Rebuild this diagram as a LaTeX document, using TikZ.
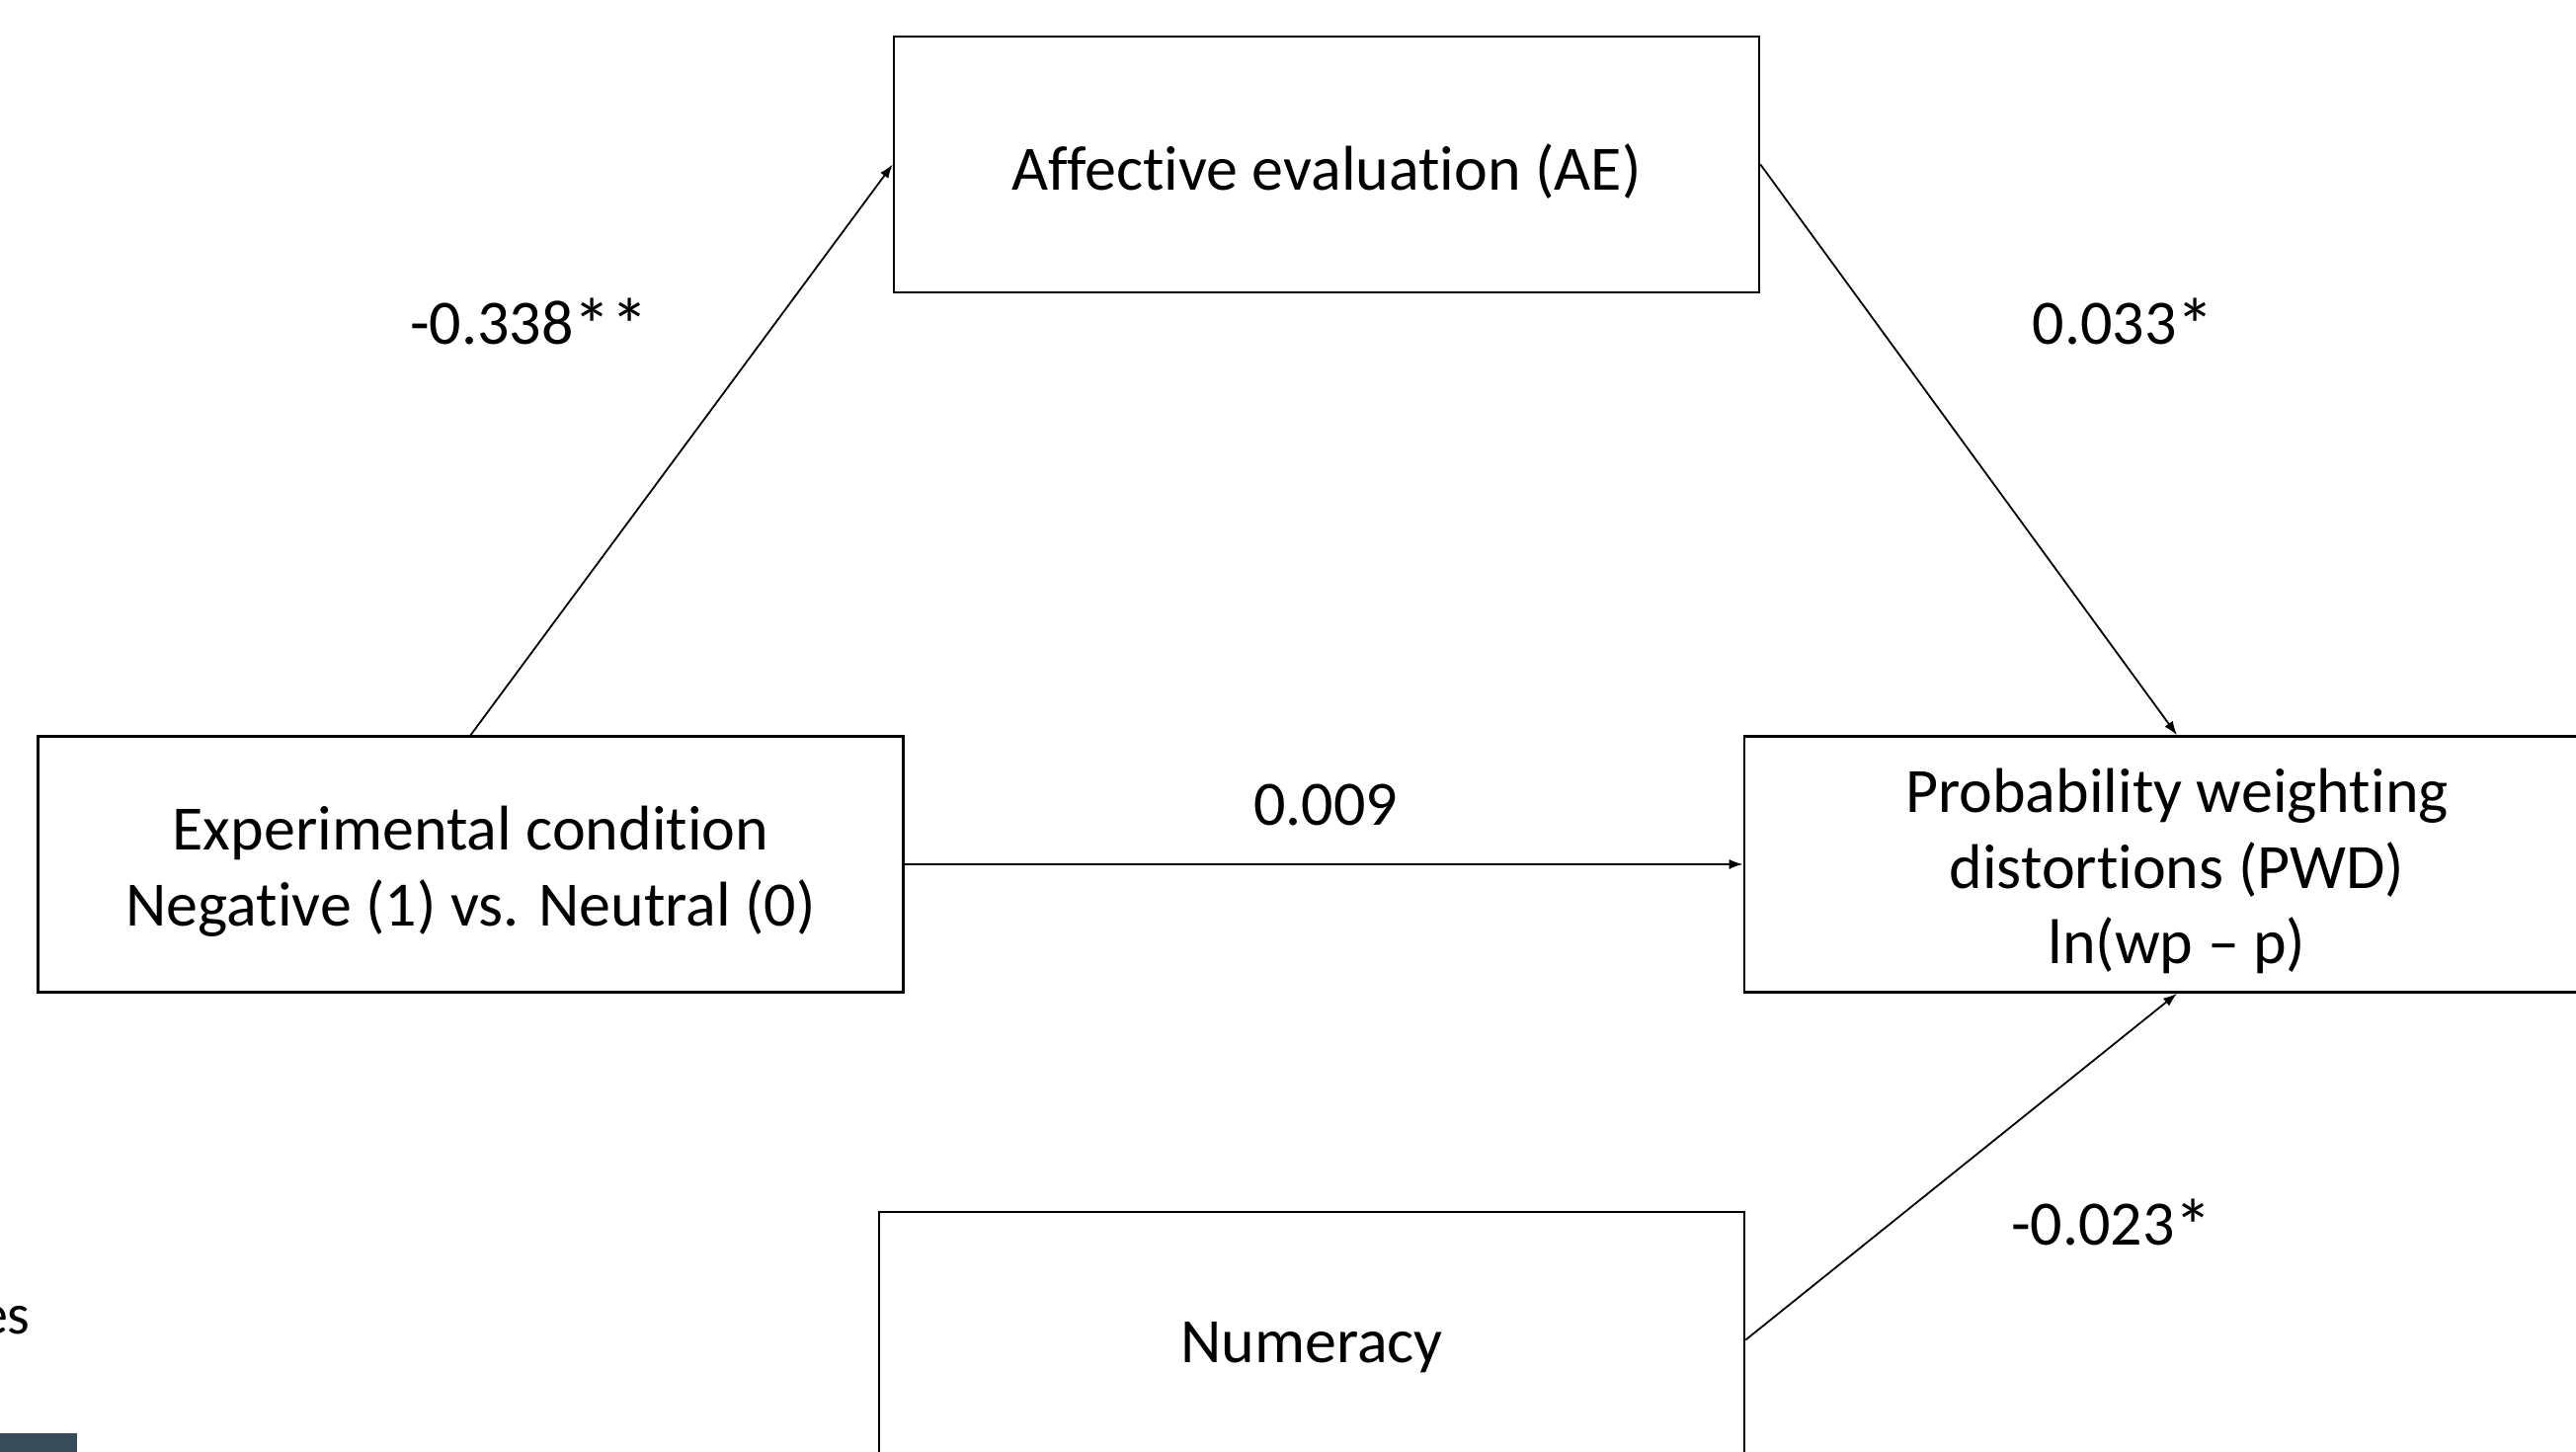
\documentclass[tikz,border=0pt]{standalone}
\usepackage{fontspec}
\setmainfont[Ligatures=NoCommon]{Carlito}
\usetikzlibrary{arrows.meta}
\definecolor{barcol}{RGB}{55,75,88}
\newcommand{\bigast}{\raisebox{-0.12em}{\scalebox{1.2}{*}}}
\begin{document}
\begin{tikzpicture}[x=0.5pt,y=-0.5pt,
  varbox/.style={draw=black,line width=1.3pt,minimum width=438pt,minimum height=129.5pt,inner sep=0pt},
  boxtext/.style={inner sep=0pt,align=center,font=\fontsize{32}{38.3}\selectfont},
  lbl/.style={inner sep=0pt,font=\fontsize{32}{38.3}\selectfont},
  conn/.style={draw=black,line width=0.9pt,-{Latex[length=7pt,width=5pt]}}]
\useasboundingbox (0,0) rectangle (2608,1470);
\fill[white] (0,0) rectangle (2608,1470);
\node[varbox] (ae) at (1343,166.5) {};
\node[varbox] (exp) at (476.5,875) {};
\node[varbox] (pwd) at (2204,875) {};
\node[varbox] (num) at (1328,1356.5) {};
\node[boxtext] (aet) at ([yshift=-3.5pt]ae.center) {Affective evaluation (AE)};
\node[boxtext] (expt) at ([yshift=-3.5pt]exp.center) {Experimental condition\\Negative (1) vs. Neutral (0)};
\node[boxtext] (pwdt) at ([yshift=-3.5pt]pwd.center) {Probability weighting\\distortions (PWD)\\ln(wp – p)};
\node[boxtext] (numt) at ([yshift=-4pt]num.center) {Numeracy};
\draw[conn] (exp.north) -- (ae.west);
\draw[conn] (ae.east) -- (pwd.north);
\draw[conn] (exp.east) -- (pwd.west);
\draw[conn] (num.east) -- (pwd.south);
\node[lbl] (l1) at (536,329) {-0.338\bigast\bigast};
\node[lbl] (l2) at (2150,329) {0.033\bigast};
\node[lbl] (l3) at (1342,815) {0.009};
\node[lbl] (l4) at (2138,1241) {-0.023\bigast};
\node[inner sep=0pt,font=\fontsize{29}{34}\selectfont,anchor=base east] (es) at (31,1350) {es};
\fill[barcol] (0,1451) rectangle (78,1470);
\end{tikzpicture}
\end{document}
